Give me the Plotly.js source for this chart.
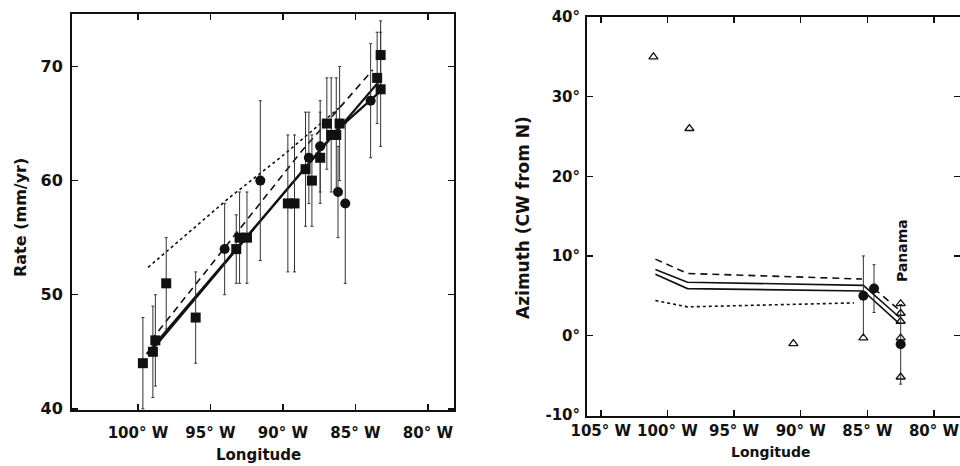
<!DOCTYPE html>
<html><head><meta charset="utf-8">
<script src="https://cdn.plot.ly/plotly-3.0.1.min.js"></script>
<style>body{margin:0;background:#fff}#chart{width:960px;height:466px}</style>
</head><body><div id="chart"></div>
<script>
// ---------- Left panel: rate vs longitude (negative = west) ----------
const rateLon = [-99.66, -98.97, -98.80, -98.05, -96.02, -94.02, -93.22, -92.99, -92.48, -91.56, -89.66, -89.20, -88.44, -88.21, -88.00, -87.43, -87.43, -86.97, -86.67, -86.32, -86.20, -86.09, -85.70, -83.95, -83.50, -83.26, -83.26];
const rateVal = [44, 45, 46, 51, 48, 54, 54, 55, 55, 60, 58, 58, 61, 62, 60, 63, 62, 65, 64, 64, 59, 65, 58, 67, 69, 71, 68];
const rateErr = [4, 4, 4, 4, 4, 4, 3, 4, 4, 7, 6, 6, 5, 4, 4, 4, 4, 4, 5, 5, 4, 5, 7, 5, 4, 3, 5];
const rateSym = ['square','square','square','square','square','circle','square','square','square','circle','square','square','square','circle','square','circle','square','square','square','square','circle','square','circle','circle','square','square','square'];

const rateSolidALon = [-99.4, -83.3];
const rateSolidAVal = [44.8, 68.8];
const rateSolidBLon = [-99.0, -86.3, -83.3];
const rateSolidBVal = [45.2, 64.4, 67.8];
const rateDashLon = [-99.1, -95.6, -88.7, -83.8];
const rateDashVal = [46.0, 51.6, 62.6, 69.7];
const rateDotLon = [-99.3, -93.7, -90.0, -86.0];
const rateDotVal = [52.4, 58.5, 62.2, 66.5];

const rateXTicks = [-100, -95, -90, -85, -80];
const rateXText = ['100° W', '95° W', '90° W', '85° W', '80° W'];
const rateYTicks = [40, 50, 60, 70];
const rateYText = ['40', '50', '60', '70'];

// ---------- Right panel: azimuth vs longitude ----------
const aziTriLon = [-101.05, -98.35, -90.55, -85.3, -82.5, -82.5, -82.5, -82.5, -82.5];
const aziTriVal = [35, 26, -1.0, -0.3, 4.0, 2.8, 1.8, -0.3, -5.2];
const aziDotLon = [-85.3, -84.5, -82.5];
const aziDotVal = [5.0, 5.9, -1.1];
const aziDotErr = [5, 3, 5];

const aziDashLon = [-100.9, -98.5, -85.4, null, -84.5, -82.6];
const aziDashVal = [9.6, 7.8, 7.1, null, 5.9, 3.2];
const aziSolidALon = [-100.9, -98.5, -85.3, -82.6];
const aziSolidAVal = [8.3, 6.7, 6.3, 2.3];
const aziSolidBLon = [-100.9, -98.5, -85.3, -82.6];
const aziSolidBVal = [7.7, 5.9, 5.6, 1.5];
const aziDottedLon = [-100.9, -98.5, -86.0];
const aziDottedVal = [4.4, 3.6, 4.1];

const aziXTicks = [-105, -100, -95, -90, -85, -80];
const aziXText = ['105° W', '100° W', '95° W', '90° W', '85° W', '80° W'];
const aziYTicks = [-10, 0, 10, 20, 30, 40];
const aziYText = ['-10°', '0°', '10°', '20°', '30°', '40°'];

const FONT = 'DejaVu Sans';
const ink = '#111';

function line(x, y, xa, ya, dash, w) {
  return {type: 'scatter', mode: 'lines', x: x, y: y, xaxis: xa, yaxis: ya,
    line: {color: ink, width: w, dash: dash}, connectgaps: false, hoverinfo: 'skip'};
}

const traces = [
  line(rateDotLon, rateDotVal, 'x', 'y', 'dot', 1.6),
  line(rateDashLon, rateDashVal, 'x', 'y', '7px,5px', 1.6),
  line(rateSolidALon, rateSolidAVal, 'x', 'y', 'solid', 2.2),
  line(rateSolidBLon, rateSolidBVal, 'x', 'y', 'solid', 2.2),
  {type: 'scatter', mode: 'markers', x: rateLon, y: rateVal, xaxis: 'x', yaxis: 'y',
    marker: {symbol: rateSym, size: 10, color: ink},
    error_y: {type: 'data', array: rateErr, visible: true, color: '#333', thickness: 1, width: 1.5}},
  line(aziDottedLon, aziDottedVal, 'x2', 'y2', 'dot', 1.6),
  line(aziDashLon, aziDashVal, 'x2', 'y2', '7px,5px', 1.6),
  line(aziSolidALon, aziSolidAVal, 'x2', 'y2', 'solid', 1.6),
  line(aziSolidBLon, aziSolidBVal, 'x2', 'y2', 'solid', 1.6),
  {type: 'scatter', mode: 'markers', x: aziDotLon, y: aziDotVal, xaxis: 'x2', yaxis: 'y2',
    marker: {symbol: 'circle', size: 10, color: ink},
    error_y: {type: 'data', array: aziDotErr, visible: true, color: '#333', thickness: 1, width: 1.5}},
  {type: 'scatter', mode: 'markers', x: aziTriLon, y: aziTriVal, xaxis: 'x2', yaxis: 'y2',
    marker: {symbol: 'triangle-up-open', size: 8, color: ink, line: {width: 1.3, color: ink}}}
];

const tickFont = {family: FONT, size: 15, color: ink, weight: 'bold'};
const axBase = {showgrid: false, zeroline: false, showline: true, linecolor: ink, linewidth: 2,
  mirror: 'ticks', ticks: 'inside', ticklen: 6, tickwidth: 1.5, tickcolor: ink,
  tickmode: 'array', tickfont: tickFont, fixedrange: true};

const layout = {
  width: 960, height: 466, margin: {l: 0, r: 0, t: 0, b: 0},
  paper_bgcolor: '#fff', plot_bgcolor: '#fff', showlegend: false,
  xaxis: Object.assign({}, axBase, {domain: [0.075, 0.4729], range: [-104.55, -78.2],
    tickvals: rateXTicks, ticktext: rateXText, anchor: 'y', ticklabelstandoff: 8}),
  yaxis: Object.assign({}, axBase, {domain: [0.1202, 0.970], range: [39.9, 74.6],
    tickvals: rateYTicks, ticktext: rateYText, anchor: 'x', ticklabelstandoff: 4,
    tickfont: {family: FONT, size: 16, color: ink, weight: 'bold'}}),
  xaxis2: Object.assign({}, axBase, {domain: [0.6115, 1.0], range: [-106.03, -78.05],
    tickvals: aziXTicks, ticktext: aziXText, anchor: 'y2', ticklabelstandoff: 0}),
  yaxis2: Object.assign({}, axBase, {domain: [0.1073, 0.9635], range: [-10.1, 40],
    tickvals: aziYTicks, ticktext: aziYText, anchor: 'x2', ticklabelstandoff: 2}),
  annotations: [
    {text: 'Longitude', xref: 'paper', yref: 'paper', x: 258/960, y: 1 - 455/466, xanchor: 'center', yanchor: 'middle',
      showarrow: false, font: {family: FONT, size: 15, color: ink, weight: 'bold'}},
    {text: 'Longitude', xref: 'paper', yref: 'paper', x: 771/960, y: 1 - 452/466, xanchor: 'center', yanchor: 'middle',
      showarrow: false, font: {family: FONT, size: 14, color: ink, weight: 'bold'}},
    {text: 'Rate (mm/yr)', xref: 'paper', yref: 'paper', x: 20/960, y: 1 - 218/466, xanchor: 'center', yanchor: 'middle',
      textangle: -90, showarrow: false, font: {family: FONT, size: 16, color: ink, weight: 'bold'}},
    {text: 'Azimuth (CW from N)', xref: 'paper', yref: 'paper', x: 523/960, y: 1 - 218/466, xanchor: 'center', yanchor: 'middle',
      textangle: -90, showarrow: false, font: {family: FONT, size: 17, color: ink, weight: 'bold'}},
    {text: 'Panama', xref: 'paper', yref: 'paper', x: 902/960, y: 1 - 251/466, xanchor: 'center', yanchor: 'middle',
      textangle: -90, showarrow: false, font: {family: FONT, size: 14, color: ink, weight: 'bold'}}
  ]
};

Plotly.newPlot('chart', traces, layout, {staticPlot: true, displayModeBar: false});
</script>
</body></html>
